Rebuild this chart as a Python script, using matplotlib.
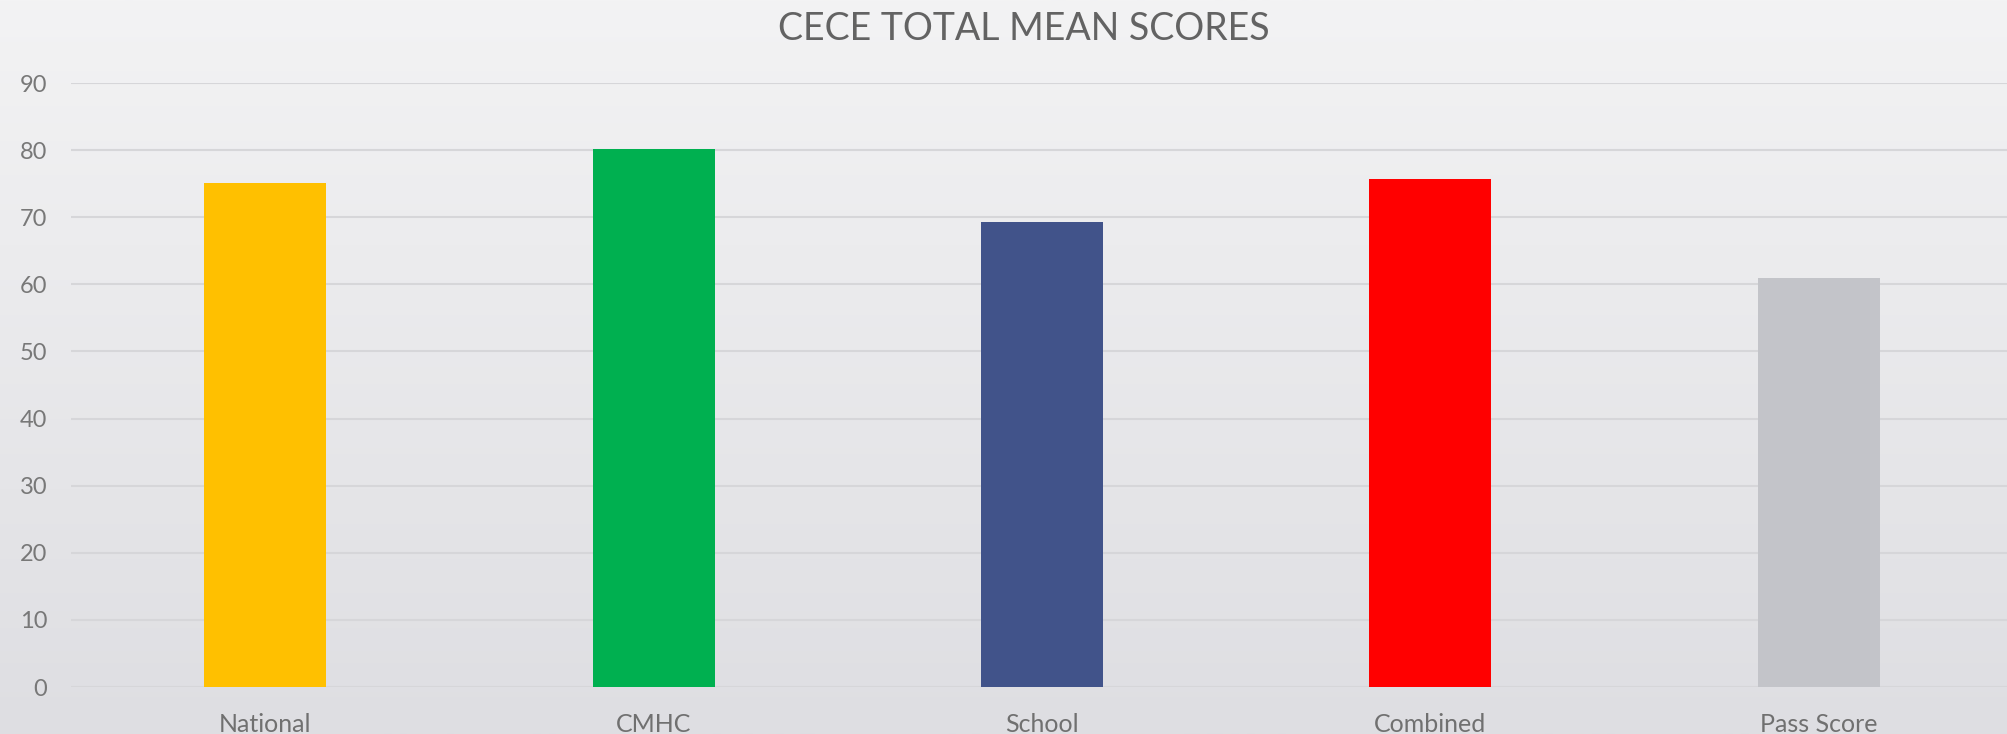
import numpy as np
import matplotlib
matplotlib.use("Agg")
import matplotlib.pyplot as plt

categories = ["National", "CMHC", "School", "Combined", "Pass Score"]
scores = [75.1, 80.2, 69.3, 75.7, 61.0]
bar_colors = ["#FFC000", "#00B050", "#41538A", "#FF0000", "#C3C4C9"]
yticks = [0, 10, 20, 30, 40, 50, 60, 70, 80, 90]
title = "CECE TOTAL MEAN SCORES"

plt.rcParams['font.family'] = ['Lato', 'DejaVu Sans']

W, H = 2008, 734
fig = plt.figure(figsize=(W / 100, H / 100), dpi=100)

# background gradient
bg = fig.add_axes([0, 0, 1, 1], zorder=-10)
top = np.array([243, 243, 244]) / 255
bot = np.array([222, 222, 226]) / 255
t = np.linspace(0, 1, 256)[:, None]
grad = top[None, :] * (1 - t) + bot[None, :] * t
bg.imshow(grad[:, None, :], aspect='auto', extent=[0, 1, 0, 1])
bg.axis('off')

ax_left = 71 / W
ax_right = 2013 / W
ax_bottom = (H - 687) / H
ax_top = (H - 83) / H
ax = fig.add_axes([ax_left, ax_bottom, ax_right - ax_left, ax_top - ax_bottom])
ax.set_facecolor('none')
ax.patch.set_alpha(0)

x = np.arange(len(categories))
ax.bar(x, scores, width=0.314, color=bar_colors, zorder=3)
ax.set_xlim(-0.5, len(categories) - 0.5)
ax.set_ylim(0, 90)
ax.set_yticks(yticks)
ax.set_xticks(x)
ax.set_xticklabels(categories)
ax.yaxis.grid(True, color='#D6D6D9', linewidth=1.5, zorder=0)
ax.set_axisbelow(True)
for s in ax.spines.values():
    s.set_visible(False)
ax.tick_params(axis='both', length=0)
ax.tick_params(axis='y', pad=17, labelsize=17, labelcolor='#787878')
ax.tick_params(axis='x', pad=19, labelsize=18, labelcolor='#707070')

fig.text(1024 / W, 1 - 29 / H, title, ha='center', va='center',
         fontsize=27, color='#636363')

fig.savefig("out.png", dpi=100)
